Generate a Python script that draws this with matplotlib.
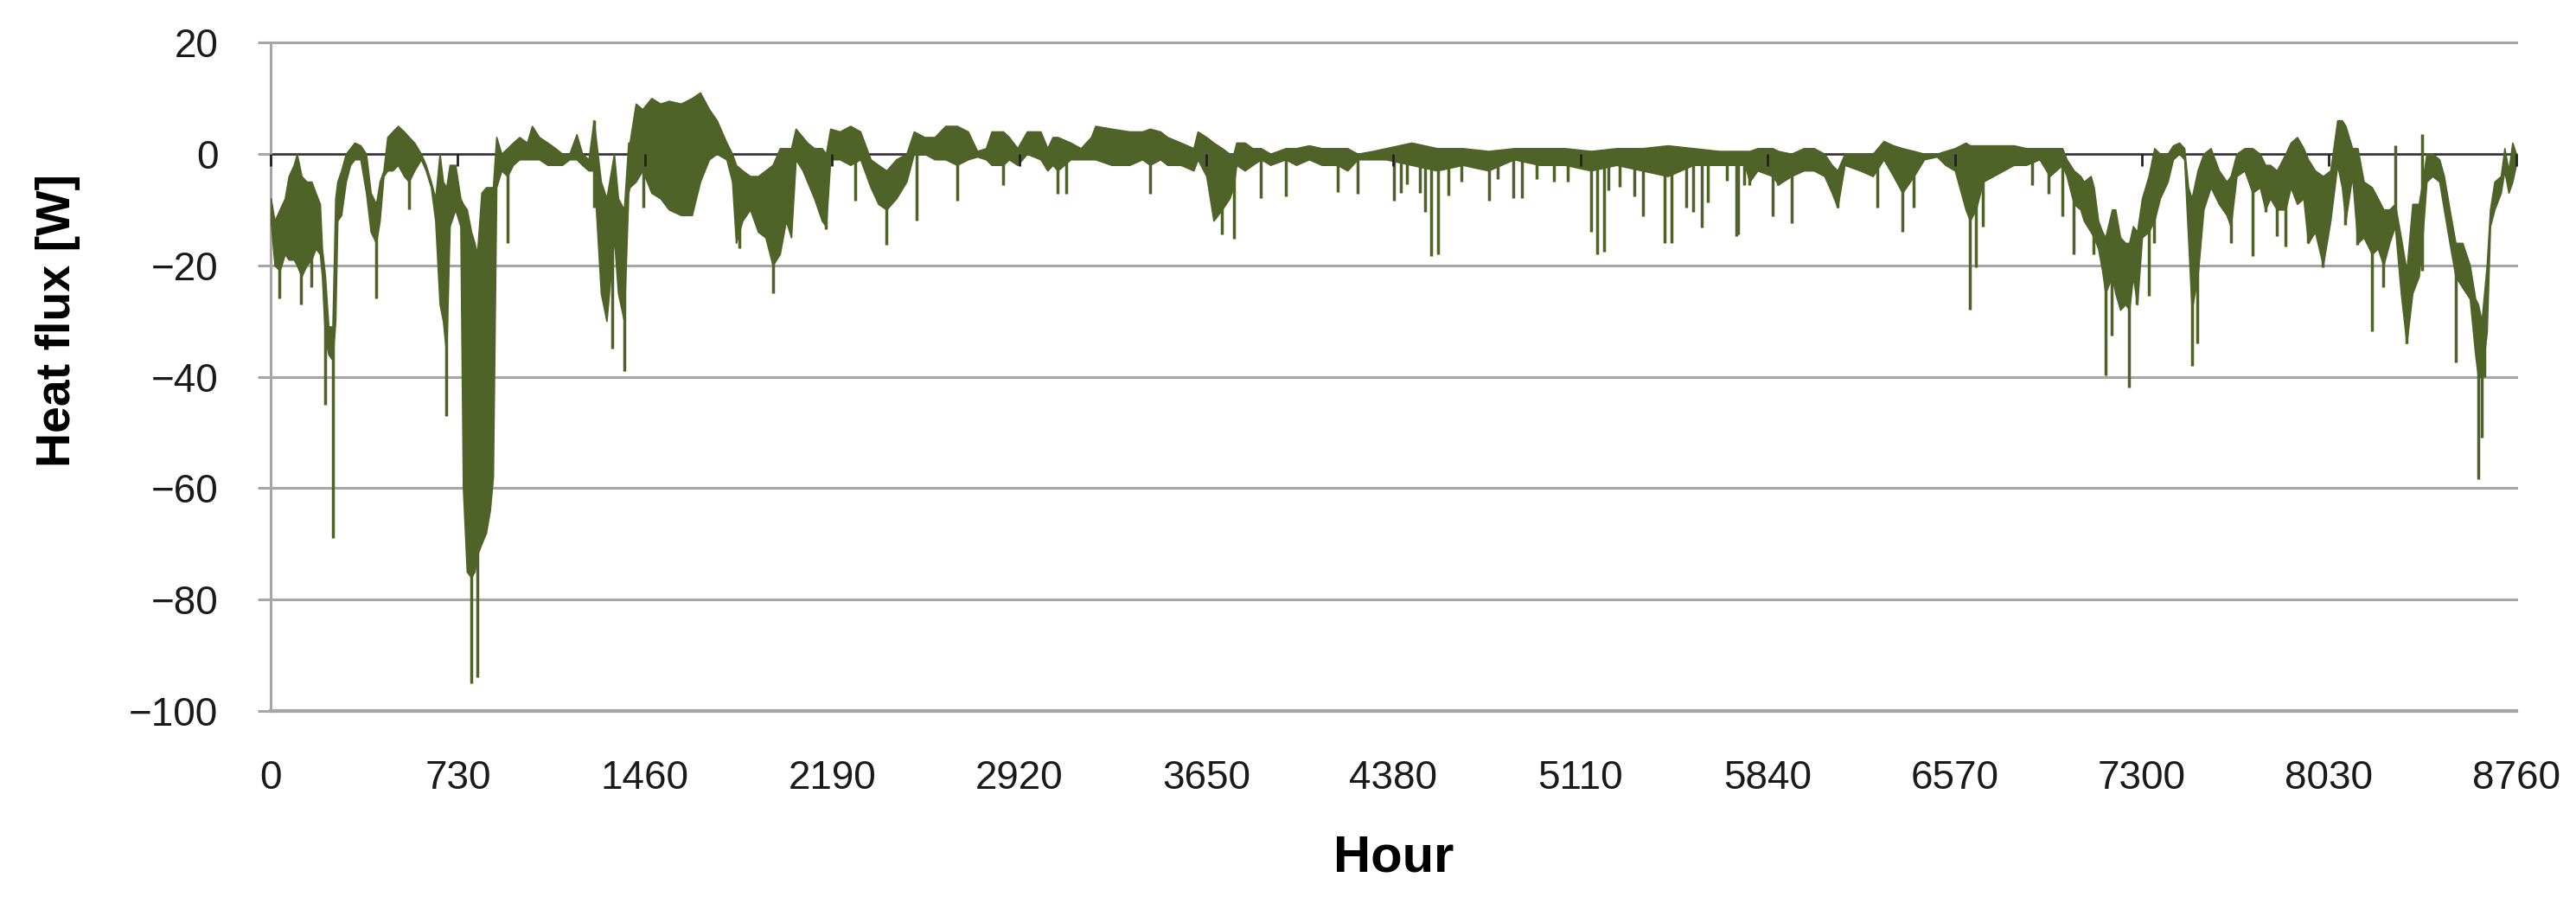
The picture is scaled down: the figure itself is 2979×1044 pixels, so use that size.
import numpy as np
import matplotlib
matplotlib.use('Agg')
import matplotlib.pyplot as plt
from matplotlib import font_manager

hours = [0, 15, 35, 55, 70, 90, 102, 120, 140, 159, 175, 192, 200, 212, 225, 241, 252, 260, 275, 293,
         310, 327, 350, 372, 390, 411, 425, 440, 455, 475, 496, 520, 539, 560, 586, 605, 625, 642, 659, 672,
         685, 698, 720, 740, 750, 765, 782, 795, 805, 822, 840, 855, 867, 880, 900, 923, 945, 970, 1000, 1019,
         1047, 1080, 1110, 1137, 1165, 1193, 1215, 1240, 1260, 1288, 1310, 1339, 1355, 1378, 1395,
         1400, 1424, 1450, 1485, 1520, 1553, 1600, 1643, 1675, 1710, 1740, 1778, 1800, 1815, 1840, 1870, 1901,
         1930, 1958, 1986, 2010, 2030, 2048, 2075, 2093, 2120, 2150, 2166, 2183, 2220, 2261, 2300, 2340, 2370,
         2402, 2440, 2480, 2509, 2550, 2590, 2632, 2677, 2720, 2756, 2790, 2812,
         2857, 2880, 2913, 2950, 3003, 3030, 3050, 3070, 3120, 3160, 3200, 3217, 3280, 3350, 3400, 3430, 3470,
         3498, 3550, 3600, 3616, 3650, 3678, 3711, 3740, 3756, 3767, 3800, 3830, 3863, 3900, 3959, 4000, 4050,
         4100, 4161, 4200, 4240, 4300,
         4350, 4450, 4550, 4650, 4750, 4850, 4950, 5050, 5150, 5250, 5350, 5450, 5550, 5650, 5750,
         5769, 5800, 5859, 5881, 5932, 5980, 6020, 6061, 6090, 6112, 6140, 6200, 6250, 6292, 6330, 6365, 6410,
         6450, 6500, 6533, 6570, 6612, 6629, 6652, 6680, 6720, 6760, 6800, 6848, 6900, 6940, 6989, 7006, 7034,
         7060, 7073, 7100, 7112, 7129, 7145, 7157, 7183, 7196,
         7215, 7235, 7250, 7265, 7281, 7300, 7326, 7348, 7370, 7400, 7421, 7445, 7465, 7480, 7494, 7517, 7540,
         7568, 7600, 7630, 7646, 7669, 7700, 7731, 7760, 7781, 7800, 7826, 7860, 7880, 7905, 7930, 7948, 7975,
         8006, 8035, 8062, 8080, 8094, 8120, 8141, 8165, 8197, 8220, 8242, 8265, 8287, 8310, 8332, 8355, 8380,
         8394, 8410, 8433, 8460, 8478, 8500, 8523, 8550, 8579, 8600, 8611, 8625, 8645, 8658, 8675, 8700, 8714,
         8730, 8745, 8759]

upper = [-8, -12, -10, -8, -4, -2, 0, -4, -5, -5, -7, -9, -17, -22, -31, -31, -8, -5, -3, 0,
         1, 2, 1.5, 0, -7, -9, -5, -3, 3, 4, 5, 4, 3, 2, 0, -2, -5, -8, 0, -5,
         -6, -2, -2, -8, -9, -10, -14, -16, -18, -7, -6, -6, -6, 3, 0, 1, 2, 3, 2, 5,
         3, 2, 1, 0, 0, 3.5, 0, -1, 6, -5, -8, 0, -8, -10, 2,
         2, 9, 8, 10, 9, 9.5, 9, 10, 11, 8, 6, 2, 0, -2, -3, -4, -4,
         -3, -2, 1, 1, 1, 4.5, 3, 2, 1, 1, 0, 4.5, 4, 5, 4, -1, -2,
         -3, -1, 0, 4, 3, 3, 5, 5, 4, 0.5, 1, 4,
         4, 3, 1, 4, 4, 1, 3, 3, 2, 1, 3, 5, 4.5, 4, 4, 4.5, 4,
         3, 2, 1, 4, 3, 2, 1, 0, 0, 2, 2, 1, 1, 0, 1, 1, 1.5,
         1, 1, 1, 0, 0.5,
         1, 2, 1, 1, 0.5, 1, 1, 1, 0.5, 1, 1, 1.5, 1, 0.5, 0.5,
         0.5, 1, 1, 0.5, 0, 1, 1, 0, -2, -3, 0, 0, 0, 2.3, 1.5, 1, 0.5,
         0, 0, 0.5, 1, 2, 1.5, 1.5, 1.5, 1.5, 1.5, 1.5, 1, 1, 1, 1, -1, -3,
         -4, -5, -4, -6, -12, -14, -15, -10, -10,
         -15, -16, -16, -13, -14, -8, -4, 1, 0, 0, 1.5, 2, 1, -6, -8, -3, 0,
         1, -3, -5, -4, 0, 1, 1, 0, -2, -2, -3, 0, 2, 3, 1, -1, -3,
         -4, -3, 6, 6, 5, 1, 1, -5, -6, -8, -10, -10, -9, -15, -21, -9, -9,
         -5, 0, 0, -1, -4, -10, -16, -16, -20, -26, -27, -30, -20, -10, -5, -4, 1,
         -3, 2, 0]

lower = [-12, -20, -21, -18, -19, -19, -20, -22, -20, -19, -17, -18, -22, -33, -36, -37, -30, -12, -11, -5,
         -2, -1, -1, -7, -14, -16, -12, -4, -3, -3, -2, -4, -5, -3, -1, -3, -6, -12, -27, -30,
         -36, -13, -10, -13, -60, -75, -76, -75, -72, -70, -68, -64, -58, -6, -3, -4, -2, -1, -1, -1,
         -1, -2, -2, -2, -1, -1, -2, -3, -3, -25, -30, -15, -25, -30, -7,
         -6, -5, -3, -7, -8, -10, -11, -11, -5, -1, 0, -1, -5, -16, -12, -10, -14,
         -15, -20, -18, -12, -15, -1, -3, -5, -8, -12, -13, -1, -1, -2, -1, -6, -9,
         -10, -8, -5, 0, 0, -1, -1, -2, -1, -0.5, -1, -2,
         -2, -1, -2, 0, -1, -3, -2, -3, -1, -1, -1, -1, -2, -2, -1, -2, -1,
         -2, -2, -3, -1, -4, -12, -10, -8, -6, -2, -3, -2, -1, -2, -1, -2, -1,
         -2, -2, -3, -1, -1,
         -1, -2, -3, -2, -3, -1, -2, -2, -3, -2, -3, -4, -2, -2, -2,
         -5, -3, -4, -5.5, -4, -3, -3, -4, -7, -9.6, -2, -3, -4, -1, -4, -7, -4,
         -1, -0.5, -2, -3, -10, -12, -10, -5, -4, -3, -2, -2, -1, -4, -2, -4, -9,
         -10, -12, -14, -15, -17, -21, -25, -22, -25,
         -28, -27, -28, -22, -27, -15, -14, -12, -8, -5, -1, 0, -1, -15, -28, -22, -10,
         -6, -9, -11, -13, -4, -3, -7, -6, -10, -8, -10, -10, -6, -9, -8, -16, -14,
         -20, -12, -2, -6, -12, -4, -16, -15, -18, -17, -20, -16, -13, -25, -34, -25, -22,
         -15, -5, -4, -5, -10, -16, -22, -24, -26, -36, -40, -40, -32, -13, -10, -7, -3,
         -7, -5, -2]

# single-hour spikes
spike_hours = [35, 119, 159, 212, 241, 411, 539, 685, 782, 805, 923, 1260, 1260, 1333, 1378,
               1452, 1828, 1958, 2166, 2281, 2402, 2520, 2677,
               2857, 3070, 3104, 3430, 3711, 3756, 3863, 3959, 4161, 4240,
               4381, 4409, 4431, 4482, 4504, 4527, 4553, 4594, 4645, 4752, 4786, 4847, 4881, 4937,
               5005, 5061, 5151, 5173, 5202, 5218, 5263, 5320, 5353, 5438, 5466, 5522, 5550, 5584,
               5606, 5679, 5719, 5747,
               5724, 5769, 5859, 5881, 5932, 6112, 6269, 6365, 6410, 6629, 6652, 6680, 6870, 6935,
               6989, 7034, 7112, 7157, 7183,
               7250, 7281, 7326, 7348, 7494, 7517, 7646, 7731, 7781, 7826, 7860, 7948, 8006, 8094,
               8141, 8197, 8242, 8287, 8332, 8394, 8394, 8523, 8611, 8625, 8636]
spike_vals = [-26, -27, -24, -45, -69, -26, -10, -47, -95, -94, -16, -9.6, 6, -35, -39,
              -9.6, -17, -25, -13.6, -8.4, -16.3, -12, -8.4,
              -5.6, -7.2, -7.2, -7.2, -14.5, -15.2, -8, -7.6, -6.8, -7.2,
              -8.4, -7, -5.5, -7, -10.4, -18.3, -18, -7.5, -5, -8.4, -4.5, -8, -8, -4.5,
              -5, -5, -14, -18, -17.5, -6.5, -6, -7.6, -11.2, -16, -16, -9.6, -10.4, -13.2,
              -8.7, -4.8, -14.8, -5.6,
              -14.4, -5.6, -11.2, -5.6, -12.4, -9.6, -9.6, -14, -9.6, -27.9, -20.3, -13, -5.6, -7.2,
              -11.2, -18, -18, -39.8, -32.6,
              -42, -27, -25.5, -16, -38, -34, -16, -18.3, -10.4, -14.8, -16.7, -16, -20.3, -12.8,
              -16.3, -31.8, -24, 1.5, -34, 3.5, -21, -37.4, -58.4, -51, -40]

xticks = [0, 730, 1460, 2190, 2920, 3650, 4380, 5110, 5840, 6570, 7300, 8030, 8760]
yticks = [20, 0, -20, -40, -60, -80, -100]

green = '#4f6228'
grid_gray = '#a6a6a6'

names = {f.name for f in font_manager.fontManager.ttflist}
if 'Liberation Sans Narrow' in names:
    tick_font, tick_size = 'Liberation Sans Narrow', 37
else:
    tick_font, tick_size = 'Liberation Sans', 33

fig = plt.figure(figsize=(29.79, 10.44), dpi=100)
ax = fig.add_axes([0.1051, 0.2126, 0.8717, 0.7405])

up = np.array(upper, dtype=float)
lo = np.array(lower, dtype=float)
ax.fill_between(hours, lo, up, color=green, lw=1.2, zorder=3)
mid = np.interp(spike_hours, hours, (up + lo) / 2)
ax.vlines(spike_hours, spike_vals, mid, color=green, lw=2.5, zorder=3)

# horizontal axis line at zero with its small tick marks
ax.axhline(0, color='#333333', lw=1.8, zorder=2)
ax.plot(xticks, np.zeros(len(xticks)), ls='none', marker=3, ms=10, mew=2,
        color='#222222', zorder=4, clip_on=False)

ax.set_xlim(0, 8760)
ax.set_ylim(-100, 20)
ax.set_xticks(xticks)
ax.set_yticks(yticks)
ax.set_axisbelow(True)
ax.grid(axis='y', color=grid_gray, lw=2.2)
for line in ax.get_ygridlines():
    line.set_clip_on(False)
ax.axhline(-100, color=grid_gray, lw=3, clip_on=False, zorder=1)

for s in ['top', 'right', 'bottom']:
    ax.spines[s].set_visible(False)
ax.spines['left'].set_color(grid_gray)
ax.spines['left'].set_linewidth(2.2)

ax.tick_params(axis='y', length=10.8, width=2.2, color=grid_gray, pad=33,
               labelsize=tick_size, labelcolor='#1a1a1a')
ax.tick_params(axis='x', length=0, pad=40, labelsize=tick_size, labelcolor='#1a1a1a')
for lab in ax.get_xticklabels() + ax.get_yticklabels():
    lab.set_fontfamily(tick_font)

fig.text(67 / 2979, 1 - 371 / 1044, 'Heat flux [W]', rotation=90, ha='center', va='center',
         fontsize=40, fontweight='bold', family='Liberation Sans')
fig.text(1612 / 2979, 1 - 1008 / 1044, 'Hour', ha='center', va='baseline',
         fontsize=43, fontweight='bold', family='Liberation Sans')

fig.savefig('out.png', dpi=100, facecolor='white')
